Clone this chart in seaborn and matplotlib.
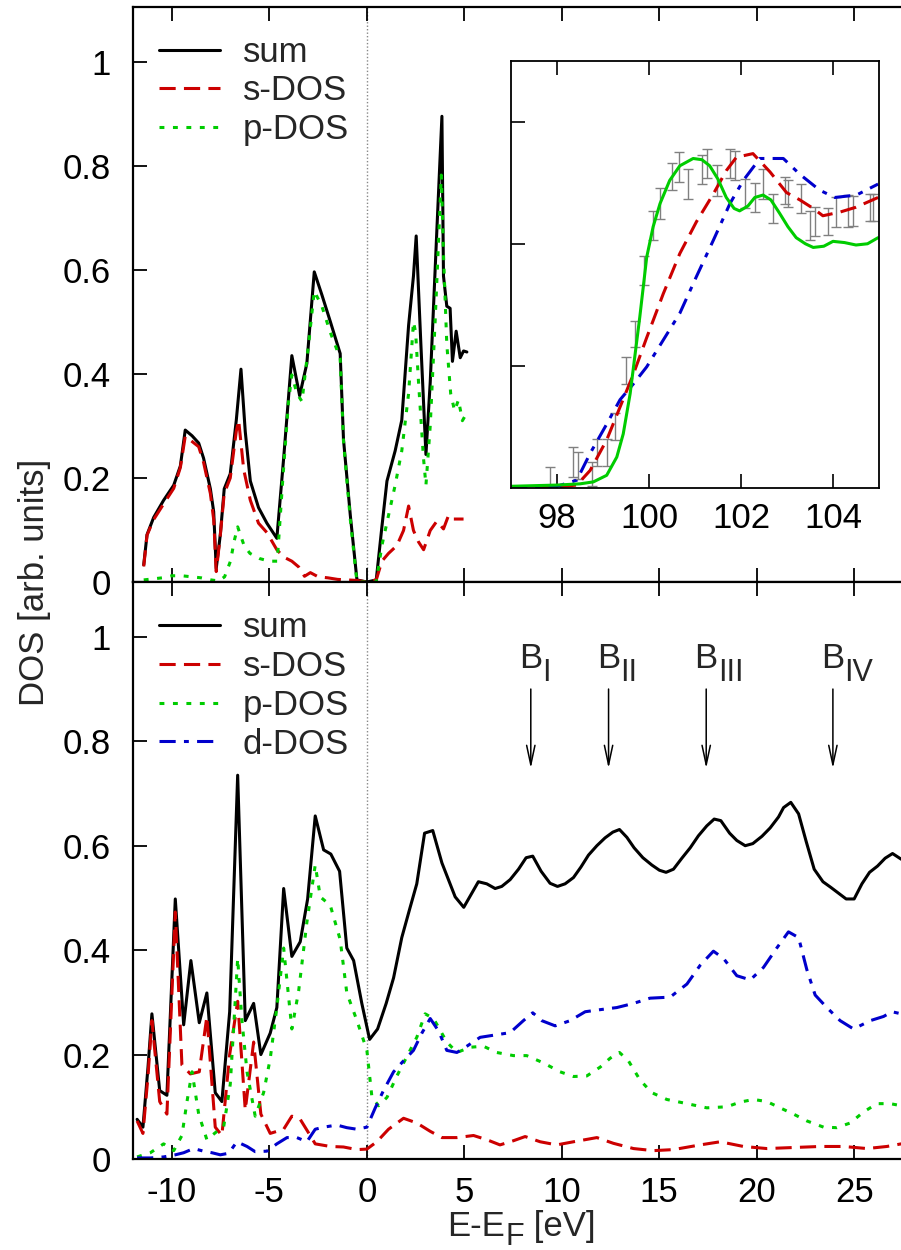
import matplotlib
matplotlib.use("Agg")
import matplotlib.pyplot as plt
import seaborn as sns
import numpy as np
import pandas as pd

# ---------------- data ----------------
# top panel (atom-projected DOS, s+p only)
top_sum_x = [-11.45, -11.28, -10.94, -10.43, -9.91, -9.57, -9.32, -8.97, -8.63, -8.38,
             -8.03, -7.86, -7.73, -7.52, -7.32, -7.01, -6.70, -6.46, -6.24, -5.98,
             -5.56, -5.13, -4.62, -4.27, -3.85, -3.45, -3.08, -2.70, -2.31, -1.88,
             -1.37, -1.20, -0.85, -0.51, 0.0, 0.48, 0.77, 1.03, 1.45, 1.79,
             2.14, 2.39, 2.53, 2.77, 3.03, 3.25, 3.59, 3.85, 3.93, 4.10,
             4.27, 4.39, 4.58, 4.79, 4.96, 5.13]
top_sum_y = [0.033, 0.091, 0.124, 0.157, 0.186, 0.223, 0.292, 0.281, 0.267, 0.238,
             0.179, 0.135, 0.026, 0.091, 0.179, 0.208, 0.311, 0.409, 0.289, 0.194,
             0.143, 0.113, 0.084, 0.238, 0.435, 0.358, 0.420, 0.596, 0.552, 0.501,
             0.439, 0.274, 0.128, 0.004, 0.0, 0.004, 0.106, 0.194, 0.252, 0.311,
             0.493, 0.588, 0.665, 0.457, 0.245, 0.384, 0.676, 0.895, 0.588, 0.530,
             0.526, 0.424, 0.482, 0.431, 0.444, 0.442]

top_s_x = [-11.45, -11.28, -10.94, -10.43, -9.91, -9.57, -9.32, -8.97, -8.63, -8.38,
           -8.03, -7.86, -7.73, -7.52, -7.32, -7.01, -6.70, -6.58, -6.32, -5.98,
           -5.56, -5.13, -4.62, -4.27, -3.85, -3.50, -3.20, -2.90, -2.50, -2.00,
           -1.50, -1.00, -0.50, 0.0, 0.48, 0.77, 1.11, 1.54, 1.88, 2.14,
           2.39, 2.65, 2.91, 3.25, 3.59, 3.93, 4.19, 4.44, 4.96]
top_s_y = [0.03, 0.09, 0.12, 0.15, 0.18, 0.22, 0.28, 0.27, 0.26, 0.23,
           0.17, 0.12, 0.02, 0.09, 0.17, 0.20, 0.29, 0.311, 0.216, 0.157,
           0.113, 0.095, 0.062, 0.048, 0.040, 0.029, 0.011, 0.018, 0.010, 0.008,
           0.005, 0.004, 0.003, 0.0, 0.004, 0.04, 0.055, 0.07, 0.099, 0.146,
           0.099, 0.077, 0.062, 0.099, 0.117, 0.102, 0.128, 0.121, 0.121]

top_p_x = [-11.45, -10.5, -10.0, -9.5, -9.0, -8.5, -8.0, -7.6, -7.3, -7.0,
           -6.8, -6.63, -6.3, -6.0, -5.5, -5.0, -4.6, -4.31, -4.02, -3.85,
           -3.59, -3.33, -2.99, -2.70, -2.31, -1.88, -1.37, -1.20, -0.85, -0.51,
           0.0, 0.48, 0.77, 1.11, 1.45, 1.79, 2.14, 2.39, 2.50, 2.65,
           2.90, 3.03, 3.25, 3.50, 3.82, 3.93, 4.10, 4.30, 4.50, 4.70,
           4.90, 5.13]
top_p_y = [0.004, 0.008, 0.012, 0.012, 0.010, 0.008, 0.004, 0.002, 0.010, 0.040,
           0.080, 0.106, 0.070, 0.055, 0.045, 0.040, 0.040, 0.200, 0.347, 0.398,
           0.362, 0.347, 0.457, 0.559, 0.53, 0.48, 0.43, 0.27, 0.12, 0.0,
           0.0, 0.0, 0.07, 0.128, 0.186, 0.252, 0.362, 0.50, 0.48, 0.384,
           0.24, 0.186, 0.30, 0.50, 0.782, 0.63, 0.457, 0.362, 0.329, 0.35,
           0.31, 0.325]

# bottom panel (s, p, d projected DOS)
bot_sum_x = [-11.79, -11.49, -11.23, -11.03, -10.63, -10.26, -9.83, -9.40, -9.03, -8.60,
             -8.21, -7.78, -7.44, -7.04, -6.63, -6.24, -5.81, -5.44, -4.96, -4.62,
             -4.27, -3.85, -3.42, -3.04, -2.65, -2.22, -1.85, -1.40, -1.03, -0.68,
             -0.26, 0.14, 0.55, 0.99, 1.37, 1.79, 2.19, 2.56, 2.96, 3.38,
             3.85, 4.53, 4.97, 5.72, 6.15, 6.58, 6.92, 7.35, 7.78, 8.17,
             8.51, 8.94, 9.40, 9.78, 10.17, 10.60, 10.98, 11.37, 11.80, 12.22,
             12.62, 12.96, 13.34, 13.71, 14.16, 14.62, 15.01, 15.35, 15.73, 16.16,
             16.59, 17.01, 17.44, 17.82, 18.16, 18.61, 18.98, 19.41, 19.80, 20.27,
             20.69, 21.12, 21.38, 21.75, 22.15, 22.54, 22.95, 23.40, 23.81, 24.20,
             24.59, 25.00, 25.40, 25.79, 26.20, 26.59, 26.97, 27.42]
bot_sum_y = [0.076, 0.061, 0.176, 0.278, 0.131, 0.122, 0.498, 0.257, 0.380, 0.261,
             0.318, 0.127, 0.110, 0.282, 0.735, 0.265, 0.298, 0.200, 0.241, 0.290,
             0.518, 0.388, 0.416, 0.498, 0.657, 0.592, 0.584, 0.551, 0.404, 0.380,
             0.298, 0.229, 0.249, 0.298, 0.347, 0.424, 0.478, 0.527, 0.624, 0.629,
             0.567, 0.502, 0.482, 0.531, 0.527, 0.518, 0.522, 0.535, 0.555, 0.577,
             0.580, 0.551, 0.528, 0.522, 0.527, 0.539, 0.559, 0.582, 0.600, 0.615,
             0.626, 0.631, 0.616, 0.596, 0.577, 0.563, 0.553, 0.549, 0.555, 0.576,
             0.596, 0.619, 0.638, 0.651, 0.648, 0.624, 0.610, 0.600, 0.604, 0.618,
             0.634, 0.655, 0.673, 0.683, 0.661, 0.608, 0.555, 0.531, 0.520, 0.509,
             0.498, 0.498, 0.527, 0.549, 0.561, 0.576, 0.585, 0.574]

bot_s_x = [-11.79, -11.49, -11.23, -11.03, -10.63, -10.26, -9.83, -9.49, -9.06, -8.60,
           -8.21, -7.78, -7.44, -7.04, -6.63, -6.24, -5.81, -5.44, -4.96, -4.27,
           -3.85, -3.42, -3.04, -2.65, -1.88, -1.20, -0.51, 0.0, 0.51, 1.11,
           1.88, 2.56, 3.25, 3.85, 4.62, 5.47, 6.15, 6.83, 7.52, 8.12,
           8.89, 9.74, 10.60, 11.80, 12.65, 13.68, 14.70, 15.73, 17.10, 18.13,
           19.32, 20.52, 21.89, 23.26, 24.46, 25.66, 26.68, 27.42]
bot_s_y = [0.073, 0.049, 0.159, 0.265, 0.110, 0.086, 0.473, 0.180, 0.163, 0.167,
           0.273, 0.061, 0.045, 0.200, 0.302, 0.094, 0.224, 0.086, 0.049, 0.057,
           0.082, 0.076, 0.053, 0.029, 0.024, 0.023, 0.018, 0.019, 0.033, 0.057,
           0.078, 0.069, 0.053, 0.041, 0.041, 0.045, 0.037, 0.027, 0.035, 0.043,
           0.033, 0.027, 0.033, 0.041, 0.030, 0.020, 0.016, 0.018, 0.027, 0.033,
           0.024, 0.020, 0.022, 0.024, 0.024, 0.020, 0.024, 0.029]

bot_p_x = [-11.79, -11.11, -10.43, -9.91, -9.49, -9.23, -8.97, -8.63, -8.21, -7.69,
           -7.35, -7.01, -6.84, -6.63, -6.41, -6.15, -5.73, -5.30, -4.96, -4.62,
           -4.27, -3.85, -3.50, -3.08, -2.65, -2.39, -1.88, -1.37, -1.03, -0.51,
           0.0, 0.26, 0.60, 1.03, 1.54, 2.05, 2.56, 2.99, 3.42, 4.10,
           4.62, 5.30, 5.98, 6.66, 7.52, 8.20, 9.06, 9.91, 10.60, 11.28,
           11.97, 12.48, 12.96, 13.42, 14.02, 14.62, 15.39, 16.42, 17.44, 18.47,
           19.15, 19.84, 20.52, 21.20, 21.89, 22.57, 23.43, 24.11, 24.80, 25.48,
           26.17, 26.85, 27.42]
bot_p_y = [0.004, 0.012, 0.029, 0.016, 0.045, 0.110, 0.167, 0.086, 0.037, 0.053,
           0.061, 0.143, 0.249, 0.384, 0.265, 0.167, 0.082, 0.127, 0.192, 0.290,
           0.404, 0.249, 0.322, 0.453, 0.563, 0.502, 0.486, 0.420, 0.318, 0.265,
           0.208, 0.118, 0.102, 0.118, 0.159, 0.196, 0.233, 0.278, 0.269, 0.224,
           0.204, 0.214, 0.216, 0.204, 0.198, 0.198, 0.184, 0.167, 0.158, 0.159,
           0.176, 0.193, 0.204, 0.188, 0.151, 0.127, 0.114, 0.106, 0.098, 0.100,
           0.109, 0.114, 0.110, 0.098, 0.086, 0.073, 0.061, 0.060, 0.069, 0.090,
           0.106, 0.106, 0.102]

bot_d_x = [-11.79, -11.11, -10.43, -9.83, -9.40, -8.89, -8.38, -7.95, -7.52, -7.09,
           -6.67, -6.15, -5.73, -5.13, -4.62, -4.10, -3.59, -3.08, -2.65, -2.22,
           -1.54, -1.03, -0.51, 0.0, 0.43, 0.85, 1.37, 1.88, 2.39, 2.82,
           3.25, 3.68, 4.10, 4.62, 5.13, 5.81, 6.49, 7.35, 8.03, 8.51,
           8.97, 9.66, 10.43, 11.20, 11.97, 12.82, 13.68, 14.53, 15.56, 16.42,
           17.10, 17.78, 18.30, 18.98, 19.67, 20.35, 21.03, 21.63, 22.15, 22.57,
           23.00, 23.60, 24.28, 24.97, 25.83, 26.51, 26.94, 27.42]
bot_d_y = [0.002, 0.002, 0.004, 0.008, 0.012, 0.020, 0.015, 0.012, 0.008, 0.011,
           0.033, 0.024, 0.014, 0.015, 0.029, 0.041, 0.041, 0.033, 0.057, 0.061,
           0.065, 0.060, 0.057, 0.061, 0.098, 0.131, 0.167, 0.188, 0.208, 0.241,
           0.269, 0.245, 0.208, 0.204, 0.216, 0.233, 0.237, 0.242, 0.265, 0.280,
           0.265, 0.255, 0.265, 0.282, 0.286, 0.290, 0.298, 0.308, 0.310, 0.335,
           0.371, 0.398, 0.384, 0.351, 0.343, 0.367, 0.404, 0.435, 0.424, 0.363,
           0.314, 0.290, 0.265, 0.249, 0.265, 0.273, 0.282, 0.278]

# inset: spectra vs. experiment
ins_green_x = [97.0, 97.5, 98.0, 98.5, 98.79, 99.08, 99.30, 99.44, 99.59, 99.69,
               99.80, 99.95, 100.09, 100.24, 100.45, 100.67, 100.96, 101.15, 101.32, 101.50,
               101.68, 101.85, 101.97, 102.15, 102.30, 102.48, 102.65, 102.84, 103.02, 103.20,
               103.40, 103.57, 103.80, 104.0, 104.25, 104.5, 104.75, 104.98]
ins_green_y = [0.01, 0.015, 0.02, 0.03, 0.046, 0.10, 0.25, 0.44, 0.77, 1.07,
               1.40, 1.89, 2.14, 2.33, 2.52, 2.64, 2.70, 2.69, 2.64, 2.53,
               2.38, 2.29, 2.27, 2.31, 2.38, 2.40, 2.36, 2.25, 2.14, 2.05,
               2.00, 1.97, 1.98, 2.02, 2.01, 1.99, 2.00, 2.05]
ins_red_x = [97.0, 98.0, 98.43, 98.72, 99.08, 99.37, 99.66, 99.95, 100.31, 100.67,
             101.03, 101.40, 101.68, 101.90, 102.26, 102.63, 102.99, 103.28, 103.57, 103.78,
             104.15, 104.50, 104.98]
ins_red_y = [0.0, 0.005, 0.02, 0.14, 0.39, 0.66, 0.93, 1.23, 1.59, 1.92,
             2.18, 2.41, 2.60, 2.71, 2.74, 2.59, 2.42, 2.36, 2.29, 2.23,
             2.26, 2.30, 2.38]
ins_blue_x = [97.0, 98.0, 98.43, 98.72, 99.08, 99.37, 99.66, 99.95, 100.31, 100.67,
              101.03, 101.40, 101.76, 102.05, 102.41, 102.92, 103.28, 103.71, 104.04, 104.51,
              104.98]
ins_blue_y = [0.0, 0.01, 0.06, 0.28, 0.52, 0.72, 0.85, 0.99, 1.21, 1.43,
              1.73, 2.03, 2.33, 2.52, 2.70, 2.70, 2.57, 2.44, 2.38, 2.40,
              2.49]
exp_x = [97.85, 98.34, 98.46, 98.75, 98.86, 99.08, 99.26, 99.49, 99.69, 99.90,
         100.09, 100.24, 100.51, 100.65, 100.85, 101.16, 101.25, 101.47, 101.76, 101.87,
         102.08, 102.30, 102.48, 102.70, 102.95, 103.03, 103.30, 103.49, 103.60, 103.89,
         104.07, 104.33, 104.43, 104.80, 104.87]
exp_y = [0.06, 0.21, 0.18, 0.11, 0.29, 0.29, 0.50, 0.96, 1.26, 1.78,
         2.15, 2.33, 2.55, 2.63, 2.49, 2.61, 2.66, 2.52, 2.66, 2.64,
         2.41, 2.38, 2.49, 2.29, 2.44, 2.41, 2.37, 2.15, 2.18, 2.18,
         2.26, 2.27, 2.27, 2.30, 2.30]
exp_err = [0.11, 0.12, 0.11, 0.10, 0.11, 0.11, 0.11, 0.11, 0.11, 0.12,
           0.12, 0.13, 0.11, 0.12, 0.12, 0.12, 0.12, 0.13, 0.12, 0.12,
           0.12, 0.12, 0.12, 0.12, 0.11, 0.11, 0.12, 0.12, 0.12, 0.11,
           0.12, 0.13, 0.12, 0.11, 0.11]

peak_x = [8.41, 12.40, 17.41, 23.91]
peak_subs = ["I", "II", "III", "IV"]

x_ticks = [-10, -5, 0, 5, 10, 15, 20, 25]
y_ticks = [0, 0.2, 0.4, 0.6, 0.8, 1.0]
y_ticklabels = ["0", "0.2", "0.4", "0.6", "0.8", "1"]
inset_xticks = [98, 100, 102, 104]

# ---------------- style ----------------
sns.set_theme(style="ticks")
plt.rcParams["font.family"] = ["Liberation Sans", "DejaVu Sans"]
plt.rcParams["axes.unicode_minus"] = False
FS = 25
FS_SUB = 22

RED = "#cc0000"
GREEN = "#00cc00"
BLUE = "#0000cc"
LW = 2.2
DASH = (0, (5.3, 2.7))
DOT = (0, (1.6, 2.8))
DASHDOT = (0, (5.3, 2.7, 1.6, 2.7))

fig = plt.figure(figsize=(9.01, 12.5), dpi=100)
W, H = 901.0, 1250.0
left = 133 / W
width = (906 - 133) / W
ax1 = fig.add_axes([left, 1 - 582 / H, width, (582 - 7) / H])
ax2 = fig.add_axes([left, 1 - 1159 / H, width, (1159 - 582) / H])


def curve(ax, xs, ys, color, ls, label):
    df = pd.DataFrame({"x": xs, "y": ys})
    sns.lineplot(data=df, x="x", y="y", ax=ax, color=color, linestyle=ls,
                 linewidth=LW, label=label, sort=False, estimator=None,
                 dash_capstyle="butt", legend=False)


curve(ax1, top_sum_x, top_sum_y, "black", "-", "sum")
curve(ax1, top_s_x, top_s_y, RED, DASH, "s-DOS")
curve(ax1, top_p_x, top_p_y, GREEN, DOT, "p-DOS")

curve(ax2, bot_sum_x, bot_sum_y, "black", "-", "sum")
curve(ax2, bot_s_x, bot_s_y, RED, DASH, "s-DOS")
curve(ax2, bot_p_x, bot_p_y, GREEN, DOT, "p-DOS")
curve(ax2, bot_d_x, bot_d_y, BLUE, DASHDOT, "d-DOS")

for ax in (ax1, ax2):
    ax.axvline(0, color="#888888", lw=1.0, ls=(0, (1, 1.5)), zorder=0)
    ax.set_xlim(-12.0, (906 - 367) / 19.486)
    ax.set_ylim(0, 1.105)
    ax.set_xticks(x_ticks)
    ax.set_yticks(y_ticks)
    ax.set_yticklabels(y_ticklabels)
    ax.tick_params(direction="in", length=10, width=1.3, top=True, right=False,
                   labelsize=FS, colors="black")
    ax.tick_params(axis="x", pad=12)
    ax.tick_params(axis="y", pad=16)
    ax.set_xlabel("")
    ax.set_ylabel("")
    for s in ax.spines.values():
        s.set_linewidth(1.6)
        s.set_color("black")
    ax.spines["right"].set_visible(False)
    ax.set_facecolor("white")

ax1.set_xticklabels([])
ax2.set_xticklabels([str(t) for t in x_ticks])

leg_kw = dict(loc="upper left", frameon=False, handlelength=1.75, handletextpad=0.65,
              labelspacing=0.165, borderpad=0, borderaxespad=0, fontsize=FS)
h1, l1 = ax1.get_legend_handles_labels()
ax1.legend(h1, l1, bbox_to_anchor=(0.034, 0.950), **leg_kw)
h2, l2 = ax2.get_legend_handles_labels()
ax2.legend(h2, l2, bbox_to_anchor=(0.034, 0.949), **leg_kw)

# arrows with labels (B with large, strongly lowered subscript)
for px, sub in zip(peak_x, peak_subs):
    ax2.annotate("", xy=(px, 0.748), xytext=(px, 0.90),
                 arrowprops=dict(arrowstyle="->,head_length=1.4,head_width=0.3",
                                 lw=1.1, color="black", shrinkA=0, shrinkB=0,
                                 mutation_scale=10))
    bx = px - 0.60
    ax2.text(bx, 0.940, "B", ha="left", va="baseline", fontsize=FS)
    ax2.annotate(sub, xy=(bx, 0.940), xytext=(16.8, -9.6), textcoords="offset points",
                 ha="left", va="baseline", fontsize=FS_SUB)

fig.text(35 / W, 1 - 582 / H, "DOS [arb. units]", rotation=90, ha="center",
         va="center", fontsize=FS)

# x-axis label "E-E_F [eV]" composed of pieces
renderer = fig.canvas.get_renderer()
yb = 1 - 1236 / H
t1 = fig.text(447 / W, yb, "E-E", ha="left", va="baseline", fontsize=FS)
bb1 = t1.get_window_extent(renderer)
t2 = fig.text(bb1.x1 / W + 0.5 / W, yb - 9 / H, "F", ha="left", va="baseline",
              fontsize=FS_SUB)
bb2 = t2.get_window_extent(renderer)
fig.text(bb2.x1 / W, yb, " [eV]", ha="left", va="baseline", fontsize=FS)

# inset
axi = fig.add_axes([511 / W, 1 - 487.5 / H, 368 / W, 426.5 / H])
axi.errorbar(exp_x, exp_y, yerr=exp_err, fmt="none", ecolor="#808080",
             elinewidth=1.0, capsize=3.5, capthick=1.0, zorder=1)
sns.lineplot(x=ins_red_x, y=ins_red_y, ax=axi, color=RED, linestyle=DASH,
             linewidth=LW, sort=False, estimator=None, dash_capstyle="butt")
sns.lineplot(x=ins_blue_x, y=ins_blue_y, ax=axi, color=BLUE, linestyle=DASHDOT,
             linewidth=LW, sort=False, estimator=None, dash_capstyle="butt")
sns.lineplot(x=ins_green_x, y=ins_green_y, ax=axi, color=GREEN, linestyle="-",
             linewidth=LW, sort=False, estimator=None)
axi.set_xlim(97, 105)
axi.set_ylim(0, 3.5)
axi.set_xticks(inset_xticks)
axi.set_xticklabels([str(t) for t in inset_xticks])
axi.set_yticks([1, 2, 3])
axi.set_yticklabels([])
axi.tick_params(axis="x", direction="in", length=10, width=1.2, top=True,
                labelsize=FS, pad=10.5, colors="black")
axi.tick_params(axis="y", direction="in", length=10, width=1.2, right=False,
                colors="black")
for s in axi.spines.values():
    s.set_linewidth(1.3)
    s.set_color("black")
axi.set_facecolor("white")

fig.savefig("out.png", dpi=100)
